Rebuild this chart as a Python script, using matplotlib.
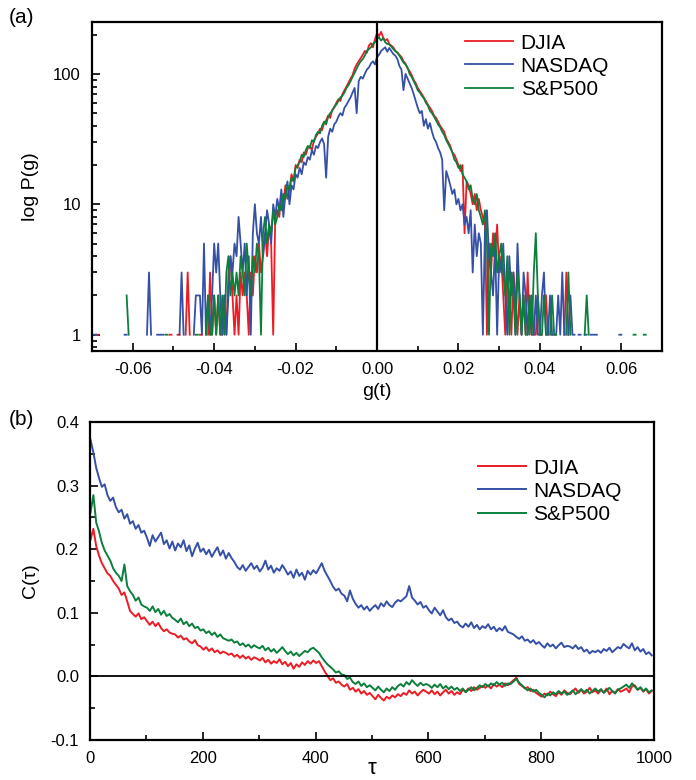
"""Return distributions (a) and autocorrelation functions (b) for three indices."""

import matplotlib

matplotlib.use("Agg")

import matplotlib.pyplot as plt
import numpy as np
from matplotlib.ticker import FixedLocator, LogLocator, MultipleLocator


SERIES_NAMES = ["DJIA", "NASDAQ", "S&P500"]
SERIES_COLORS = ["#ed1c24", "#3550a6", "#0b7f3b"]

# ---- panel (a): histogram counts, bins of width 0.0005 starting at -0.0695
G_FIRST = -0.0695
G_STEP = 0.0005

DJIA_COUNTS = [
    0, 1, 1, 0, 0, 0, 0, 0, 0, 0,
    0, 0, 0, 0, 0, 0, 0, 0, 0, 0,
    0, 0, 0, 0, 0, 0, 0, 0, 0, 0,
    0, 0, 0, 0, 0, 0, 0, 1, 1, 0,
    0, 1, 1, 0, 0, 1, 3, 1, 0, 0,
    0, 0, 1, 1, 0, 0, 1, 3, 1, 2,
    1, 2, 1, 1, 2, 1, 3, 4, 2, 1,
    2, 1, 3, 2, 3, 2, 1, 3, 2, 4,
    3, 5, 3, 4, 6, 4, 7, 5, 1, 8,
    9, 8, 12, 10, 14, 11, 13, 17, 15, 20,
    19, 22, 21, 25, 24, 27, 28, 26, 31, 33,
    35, 38, 37, 42, 44, 48, 46, 53, 55, 60,
    64, 62, 70, 75, 80, 86, 92, 98, 110, 118,
    125, 132, 140, 150, 145, 165, 172, 160, 185, 205,
    195, 210, 190, 180, 185, 170, 165, 160, 150, 146,
    140, 135, 125, 120, 110, 105, 98, 90, 85, 78,
    74, 70, 66, 62, 58, 55, 52, 48, 46, 43,
    40, 38, 36, 32, 30, 28, 25, 24, 22, 20,
    18, 20, 6, 15, 14, 12, 10, 12, 9, 11,
    9, 8, 7, 1, 5, 3, 6, 4, 7, 3,
    4, 2, 1, 3, 2, 1, 3, 2, 1, 2,
    1, 2, 1, 3, 1, 2, 1, 1, 2, 1,
    1, 0, 2, 1, 0, 1, 1, 0, 0, 0,
    0, 1, 3, 1, 0, 0, 0, 0, 0, 0,
    0, 0, 0, 0, 0, 0, 0, 0, 0, 0,
    0, 0, 0, 0, 0, 0, 0, 0, 0, 0,
    0, 0, 0, 0, 0, 0, 0, 0, 0, 0,
    0, 0, 0,
]

NASDAQ_COUNTS = [
    1, 1, 0, 0, 0, 0, 0, 0, 0, 0,
    0, 0, 0, 0, 0, 1, 1, 0, 0, 0,
    0, 0, 0, 0, 0, 0, 1, 3, 1, 0,
    0, 1, 1, 1, 1, 0, 0, 0, 0, 0,
    0, 0, 1, 3, 1, 0, 0, 0, 0, 1,
    2, 2, 2, 1, 5, 1, 2, 1, 2, 5,
    3, 5, 2, 1, 2, 1, 2, 4, 3, 5,
    4, 8, 5, 3, 5, 2, 4, 1, 6, 10,
    6, 5, 8, 4, 6, 9, 7, 5, 10, 8,
    11, 9, 13, 8, 12, 15, 10, 14, 13, 17,
    16, 19, 17, 21, 20, 23, 22, 26, 24, 28,
    27, 30, 32, 29, 16, 33, 38, 36, 41, 43,
    47, 50, 48, 55, 58, 62, 66, 72, 78, 50,
    88, 95, 92, 100, 108, 112, 120, 125, 118, 135,
    140, 150, 155, 160, 148, 158, 150, 142, 138, 130,
    115, 108, 75, 100, 92, 85, 78, 70, 62, 55,
    50, 52, 40, 45, 38, 42, 36, 32, 30, 27,
    25, 22, 9, 18, 16, 14, 12, 13, 10, 11,
    9, 10, 7, 8, 6, 9, 3, 7, 4, 6,
    5, 1, 6, 9, 4, 3, 2, 5, 1, 4,
    3, 5, 2, 1, 4, 2, 3, 1, 5, 2,
    1, 3, 2, 1, 2, 1, 1, 2, 1, 1,
    2, 3, 1, 1, 2, 1, 0, 1, 2, 1,
    3, 1, 0, 1, 2, 1, 1, 0, 1, 1,
    0, 1, 1, 0, 1, 1, 1, 1, 0, 0,
    0, 0, 0, 0, 0, 0, 0, 0, 1, 1,
    0, 0, 0, 0, 0, 0, 0, 0, 0, 0,
    0, 0, 0,
]

SP500_COUNTS = [
    0, 0, 0, 0, 0, 0, 0, 0, 0, 0,
    0, 0, 0, 0, 0, 0, 2, 1, 0, 0,
    0, 0, 0, 0, 0, 0, 0, 0, 0, 0,
    0, 0, 0, 0, 0, 1, 1, 0, 0, 0,
    0, 0, 0, 0, 0, 0, 0, 0, 0, 0,
    1, 1, 0, 0, 0, 1, 2, 1, 1, 2,
    1, 2, 1, 2, 1, 3, 4, 2, 3, 2,
    3, 2, 4, 3, 2, 5, 3, 2, 4, 3,
    5, 4, 1, 6, 8, 5, 7, 6, 9, 7,
    8, 10, 9, 12, 11, 14, 13, 16, 15, 19,
    20, 21, 24, 23, 26, 28, 27, 31, 30, 34,
    36, 35, 40, 43, 41, 47, 50, 52, 56, 58,
    62, 66, 68, 72, 78, 82, 88, 95, 102, 110,
    118, 125, 130, 138, 150, 155, 160, 170, 175, 185,
    190, 180, 188, 175, 170, 168, 162, 155, 150, 145,
    138, 130, 122, 118, 112, 100, 95, 88, 82, 75,
    72, 68, 65, 60, 57, 52, 50, 47, 44, 41,
    39, 36, 34, 31, 29, 27, 25, 22, 21, 19,
    20, 17, 16, 15, 13, 14, 11, 10, 12, 9,
    8, 7, 9, 5, 1, 5, 4, 6, 3, 4,
    5, 3, 2, 4, 1, 3, 2, 1, 3, 2,
    1, 2, 1, 1, 2, 1, 3, 6, 2, 1,
    1, 2, 1, 0, 1, 2, 1, 1, 0, 0,
    0, 0, 1, 3, 1, 0, 0, 0, 0, 0,
    0, 1, 2, 1, 0, 0, 0, 0, 0, 0,
    0, 0, 0, 0, 0, 0, 0, 0, 0, 0,
    0, 0, 0, 0, 0, 1, 1, 0, 0, 0,
    1, 1, 0,
]

# ---- panel (b): autocorrelation sampled every 5 lags, starting at lag 1
TAU_FIRST = 1
TAU_STEP = 5

NASDAQ_ACF = [
    0.372, 0.352, 0.328, 0.312, 0.298, 0.302, 0.285, 0.276, 0.281, 0.266,
    0.258, 0.262, 0.248, 0.255, 0.240, 0.244, 0.232, 0.238, 0.226, 0.229,
    0.218, 0.205, 0.222, 0.212, 0.219, 0.226, 0.208, 0.214, 0.201, 0.212,
    0.198, 0.209, 0.203, 0.214, 0.197, 0.206, 0.189, 0.201, 0.210, 0.196,
    0.201, 0.192, 0.199, 0.188, 0.196, 0.203, 0.190, 0.198, 0.185, 0.194,
    0.186, 0.180, 0.172, 0.168, 0.175, 0.166, 0.172, 0.178, 0.169, 0.174,
    0.165, 0.171, 0.182, 0.168, 0.174, 0.163, 0.170, 0.166, 0.175, 0.168,
    0.160, 0.165, 0.155, 0.168, 0.158, 0.163, 0.152, 0.166, 0.160, 0.167,
    0.162, 0.170, 0.178, 0.166, 0.158, 0.150, 0.141, 0.135, 0.138, 0.130,
    0.127, 0.118, 0.135, 0.122, 0.114, 0.108, 0.112, 0.105, 0.110, 0.103,
    0.108, 0.112, 0.106, 0.115, 0.110, 0.118, 0.112, 0.109, 0.116, 0.120,
    0.118, 0.122, 0.126, 0.142, 0.124, 0.119, 0.113, 0.117, 0.108, 0.111,
    0.104, 0.099, 0.108, 0.102, 0.096, 0.104, 0.093, 0.088, 0.091, 0.084,
    0.086, 0.080, 0.077, 0.083, 0.078, 0.085, 0.076, 0.081, 0.074, 0.079,
    0.076, 0.082, 0.074, 0.078, 0.071, 0.076, 0.072, 0.079, 0.070, 0.068,
    0.066, 0.062, 0.059, 0.063, 0.056, 0.058, 0.053, 0.057, 0.051, 0.054,
    0.049, 0.045, 0.052, 0.047, 0.050, 0.044, 0.049, 0.053, 0.046, 0.048,
    0.047, 0.044, 0.049, 0.043, 0.046, 0.039, 0.042, 0.036, 0.040, 0.038,
    0.041, 0.037, 0.043, 0.040, 0.045, 0.038, 0.042, 0.046, 0.044, 0.051,
    0.047, 0.044, 0.052, 0.041, 0.046, 0.039, 0.043, 0.035, 0.038, 0.033,
]

DJIA_ACF = [
    0.215, 0.232, 0.205, 0.190, 0.178, 0.170, 0.162, 0.158, 0.150, 0.144,
    0.138, 0.128, 0.132, 0.118, 0.103, 0.098, 0.094, 0.099, 0.090, 0.093,
    0.087, 0.081, 0.086, 0.079, 0.084, 0.076, 0.071, 0.074, 0.069, 0.067,
    0.066, 0.061, 0.064, 0.058, 0.060, 0.055, 0.052, 0.057, 0.049, 0.047,
    0.042, 0.046, 0.040, 0.044, 0.038, 0.041, 0.036, 0.039, 0.037, 0.034,
    0.036, 0.031, 0.034, 0.029, 0.033, 0.028, 0.031, 0.026, 0.030, 0.028,
    0.025, 0.029, 0.022, 0.026, 0.020, 0.024, 0.021, 0.027, 0.019, 0.023,
    0.016, 0.021, 0.012, 0.019, 0.015, 0.022, 0.018, 0.024, 0.020, 0.025,
    0.021, 0.024, 0.016, 0.008, 0.001, -0.006, -0.003, -0.010, -0.008, -0.013,
    -0.016, -0.012, -0.021, -0.018, -0.024, -0.020, -0.027, -0.023, -0.029, -0.026,
    -0.031, -0.036, -0.029, -0.034, -0.038, -0.032, -0.035, -0.030, -0.033, -0.028,
    -0.031, -0.026, -0.029, -0.022, -0.027, -0.024, -0.030, -0.025, -0.021, -0.024,
    -0.027, -0.022, -0.028, -0.024, -0.030, -0.025, -0.021, -0.027, -0.023, -0.029,
    -0.025, -0.028, -0.021, -0.024, -0.019, -0.023, -0.017, -0.021, -0.018, -0.015,
    -0.018, -0.014, -0.019, -0.012, -0.016, -0.013, -0.017, -0.011, -0.014, -0.010,
    -0.006, -0.002, -0.012, -0.015, -0.019, -0.017, -0.023, -0.021, -0.026, -0.029,
    -0.032, -0.027, -0.030, -0.024, -0.028, -0.031, -0.025, -0.029, -0.022, -0.026,
    -0.028, -0.023, -0.019, -0.026, -0.021, -0.027, -0.024, -0.018, -0.025, -0.022,
    -0.027, -0.021, -0.025, -0.019, -0.028, -0.023, -0.026, -0.020, -0.024, -0.022,
    -0.019, -0.025, -0.016, -0.014, -0.021, -0.018, -0.024, -0.020, -0.027, -0.023,
]

SP500_ACF = [
    0.258, 0.285, 0.242, 0.228, 0.210, 0.198, 0.190, 0.182, 0.170, 0.163,
    0.158, 0.150, 0.176, 0.142, 0.134, 0.128, 0.119, 0.124, 0.113, 0.110,
    0.108, 0.103, 0.110, 0.101, 0.106, 0.097, 0.103, 0.095, 0.098, 0.092,
    0.089, 0.085, 0.091, 0.082, 0.086, 0.079, 0.083, 0.076, 0.078, 0.072,
    0.074, 0.068, 0.071, 0.065, 0.069, 0.062, 0.066, 0.060, 0.058, 0.056,
    0.058, 0.053, 0.055, 0.049, 0.052, 0.047, 0.050, 0.045, 0.049, 0.046,
    0.044, 0.048, 0.041, 0.045, 0.039, 0.043, 0.037, 0.041, 0.046, 0.040,
    0.035, 0.039, 0.033, 0.037, 0.032, 0.036, 0.040, 0.038, 0.043, 0.045,
    0.041, 0.037, 0.030, 0.024, 0.019, 0.015, 0.011, 0.006, 0.008, 0.003,
    0.002, -0.004, -0.002, -0.009, -0.012, -0.008, -0.015, -0.011, -0.017, -0.014,
    -0.018, -0.022, -0.016, -0.021, -0.025, -0.019, -0.023, -0.017, -0.021, -0.015,
    -0.012, -0.016, -0.009, -0.013, -0.006, -0.011, -0.015, -0.010, -0.014, -0.012,
    -0.014, -0.018, -0.013, -0.017, -0.012, -0.019, -0.015, -0.020, -0.016, -0.021,
    -0.018, -0.023, -0.019, -0.025, -0.021, -0.017, -0.022, -0.018, -0.014, -0.017,
    -0.012, -0.016, -0.011, -0.014, -0.009, -0.013, -0.010, -0.015, -0.011, -0.012,
    -0.008, -0.004, -0.010, -0.014, -0.018, -0.022, -0.019, -0.024, -0.021, -0.026,
    -0.029, -0.033, -0.027, -0.030, -0.025, -0.028, -0.023, -0.027, -0.024, -0.029,
    -0.026, -0.022, -0.028, -0.024, -0.020, -0.025, -0.021, -0.027, -0.023, -0.019,
    -0.024, -0.020, -0.026, -0.022, -0.018, -0.023, -0.027, -0.021, -0.019, -0.016,
    -0.013, -0.018, -0.011, -0.016, -0.021, -0.017, -0.023, -0.019, -0.025, -0.022,
]


def style_axis(axis: plt.Axes) -> None:
    """Boxed axis with inward ticks on the left and bottom only."""

    for spine in axis.spines.values():
        spine.set_linewidth(1.6)

    axis.tick_params(
        which="both",
        direction="in",
        top=False,
        right=False,
        labelsize=12,
        width=1.2,
        pad=8,
    )
    axis.tick_params(which="major", length=6)
    axis.tick_params(which="minor", length=3.5)


def main() -> None:
    plt.rcParams.update(
        {
            "font.family": ["Liberation Sans", "DejaVu Sans"],
            "axes.unicode_minus": False,
        }
    )

    figure = plt.figure(figsize=(6.96, 7.8), dpi=100)

    # ---- (a) distribution of returns
    axis_a = figure.add_axes([0.1322, 0.55, 0.819, 0.4218])

    counts = [DJIA_COUNTS, NASDAQ_COUNTS, SP500_COUNTS]
    g_values = G_FIRST + G_STEP * np.arange(len(DJIA_COUNTS))

    for name, color, values in zip(SERIES_NAMES, SERIES_COLORS, counts):
        values = np.asarray(values, dtype=float)
        values[values <= 0] = np.nan
        axis_a.plot(g_values, values, color=color, linewidth=1.3, label=name)

    axis_a.axvline(0, color="black", linewidth=1.6, zorder=5)

    axis_a.set_yscale("log")
    axis_a.set_xlim(-0.07, 0.07)
    axis_a.set_ylim(0.75, 250)
    axis_a.xaxis.set_major_locator(FixedLocator([-0.06, -0.04, -0.02, 0.0, 0.02, 0.04, 0.06]))
    axis_a.xaxis.set_minor_locator(MultipleLocator(0.01))
    axis_a.yaxis.set_major_locator(FixedLocator([1, 10, 100]))
    axis_a.yaxis.set_minor_locator(LogLocator(base=10, subs=np.arange(2, 10)))
    axis_a.yaxis.set_minor_formatter(plt.NullFormatter())
    axis_a.set_yticklabels(["1", "10", "100"])
    axis_a.set_xticklabels(["-0.06", "-0.04", "-0.02", "0.00", "0.02", "0.04", "0.06"])
    style_axis(axis_a)

    axis_a.set_xlabel("g(t)", fontsize=14, labelpad=4)
    axis_a.set_ylabel("log P(g)", fontsize=14, labelpad=10)

    axis_a.legend(
        loc="upper left",
        bbox_to_anchor=(0.655, 0.965),
        frameon=False,
        fontsize=15,
        handlelength=2.3,
        handletextpad=0.35,
        labelspacing=0.2,
        borderpad=0,
        borderaxespad=0,
    )

    figure.text(0.012, 0.977, "(a)", fontsize=15, ha="left", va="center")

    # ---- (b) autocorrelation
    axis_b = figure.add_axes([0.1293, 0.0513, 0.8103, 0.4077])

    acfs = [DJIA_ACF, NASDAQ_ACF, SP500_ACF]
    tau_values = TAU_FIRST + TAU_STEP * np.arange(len(DJIA_ACF))

    for name, color, values in zip(SERIES_NAMES, SERIES_COLORS, acfs):
        axis_b.plot(tau_values, values, color=color, linewidth=1.4, label=name)

    axis_b.axhline(0, color="black", linewidth=1.3, zorder=5)

    axis_b.set_xlim(0, 1000)
    axis_b.set_ylim(-0.1, 0.4)
    axis_b.xaxis.set_major_locator(MultipleLocator(200))
    axis_b.xaxis.set_minor_locator(MultipleLocator(100))
    axis_b.yaxis.set_major_locator(MultipleLocator(0.1))
    axis_b.yaxis.set_minor_locator(MultipleLocator(0.05))
    axis_b.yaxis.set_major_formatter(plt.FormatStrFormatter("%.1f"))
    style_axis(axis_b)

    axis_b.set_xlabel("τ", fontsize=16)
    axis_b.xaxis.set_label_coords(0.5, -0.058)
    axis_b.set_ylabel("C(τ)", fontsize=14, labelpad=8)

    axis_b.legend(
        loc="upper left",
        bbox_to_anchor=(0.688, 0.885),
        frameon=False,
        fontsize=15,
        handlelength=2.3,
        handletextpad=0.35,
        labelspacing=0.2,
        borderpad=0,
        borderaxespad=0,
    )

    figure.text(0.012, 0.462, "(b)", fontsize=15, ha="left", va="center")

    figure.savefig("out.png", dpi=100)
    plt.close(figure)


if __name__ == "__main__":
    main()
